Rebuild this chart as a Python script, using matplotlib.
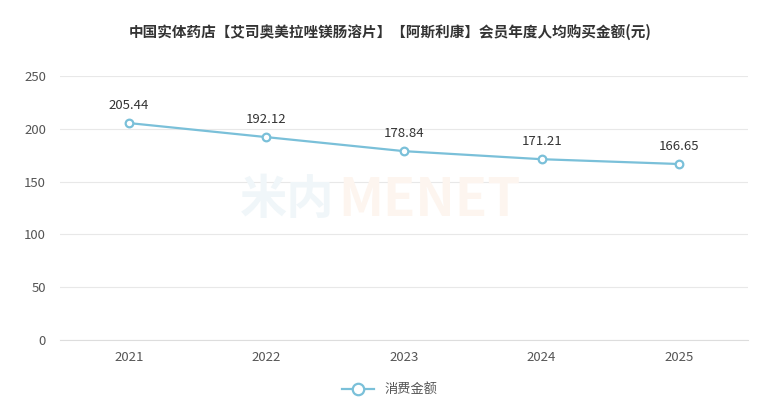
import matplotlib.pyplot as plt

plt.rcParams['font.family'] = ['Noto Sans CJK SC', 'DejaVu Sans']

years = ['2021', '2022', '2023', '2024', '2025']
amounts = [205.44, 192.12, 178.84, 171.21, 166.65]
yticks = [0, 50, 100, 150, 200, 250]

line_color = '#7ac0d9'

fig = plt.figure(figsize=(7.8, 4.0), dpi=100)
ax = fig.add_axes([60 / 780, 60 / 400, 688 / 780, 264 / 400])

# watermark
fig.text(240 / 780, 200 / 400, '米内', fontsize=34, fontweight='bold',
         color='#f0f6f9', ha='left', va='center', zorder=0)
fig.text(338 / 780, 200 / 400, 'MENET', fontsize=38, fontweight='bold',
         color='#fdf5ef', ha='left', va='center', zorder=0)

x = range(len(years))
ax.plot(x, amounts, color=line_color, linewidth=1.6, marker='o',
        markersize=5.5, markerfacecolor='white', markeredgecolor=line_color,
        markeredgewidth=1.6, label='消费金额', zorder=3)
for i, v in zip(x, amounts):
    ax.annotate(f'{v:.2f}', (i, v), textcoords='offset points', xytext=(0, 8),
                ha='center', va='bottom', fontsize=9.5, color='#333333')

ax.set_xlim(-0.5, len(years) - 0.5)
ax.set_ylim(0, 250)
ax.set_yticks(yticks)
ax.set_xticks(list(x))
ax.set_xticklabels(years)
ax.grid(axis='y', color='#e8e8e8', linewidth=0.8)
ax.set_axisbelow(True)
ax.patch.set_alpha(0)
for s in ['top', 'right', 'left']:
    ax.spines[s].set_visible(False)
ax.spines['bottom'].set_color('#dddddd')
ax.tick_params(axis='both', length=0, labelsize=9.5, colors='#555555')
ax.tick_params(axis='x', pad=8)
ax.tick_params(axis='y', pad=10)

fig.suptitle('中国实体药店【艾司奥美拉唑镁肠溶片】【阿斯利康】会员年度人均购买金额(元)',
             x=0.5, y=0.94, fontsize=10.5, fontweight='bold', color='#333333')

fig.legend(loc='lower center', bbox_to_anchor=(0.5, -0.02), frameon=False,
           fontsize=9.5, labelcolor='#555555', handlelength=2.4,
           markerscale=1.5)

fig.savefig('out.png', dpi=100)
